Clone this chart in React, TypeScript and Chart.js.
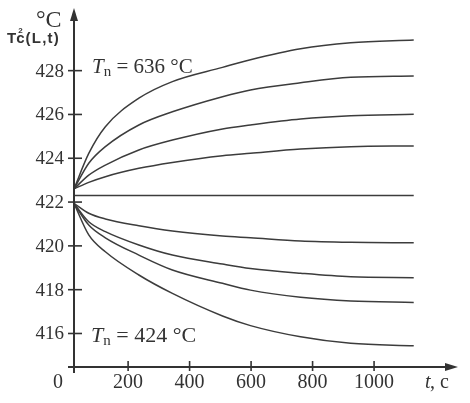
import React, { useEffect, useRef } from "react";
import { Chart, registerables } from "chart.js";
Chart.register(...registerables);

// time, s
const timeS = [24, 72, 126, 235, 344, 507, 598, 761, 924, 1129];
// temperature curves, °C
const curve1 = [422.6, 424.22, 425.44, 426.74, 427.5, 428.15, 428.5, 429.0, 429.27, 429.4];
const curve2 = [422.6, 423.77, 424.53, 425.52, 426.12, 426.81, 427.12, 427.45, 427.7, 427.76];
const curve3 = [422.6, 423.23, 423.69, 424.38, 424.83, 425.34, 425.52, 425.79, 425.94, 426.01];
const curve4 = [422.6, 422.9, 423.16, 423.54, 423.81, 424.12, 424.23, 424.42, 424.53, 424.56];
const curve5 = [422.3, 422.3, 422.3, 422.3, 422.3, 422.3, 422.3, 422.3, 422.3, 422.3];
const curve6 = [421.94, 421.49, 421.23, 420.92, 420.68, 420.45, 420.37, 420.22, 420.16, 420.14];
const curve7 = [421.94, 421.1, 420.65, 420.04, 419.58, 419.17, 418.97, 418.75, 418.59, 418.55];
const curve8 = [421.94, 420.95, 420.37, 419.58, 418.9, 418.29, 417.98, 417.65, 417.48, 417.42];
const curve9 = [421.94, 420.5, 419.73, 418.67, 417.83, 416.8, 416.36, 415.85, 415.55, 415.44];
const allCurves = [curve1, curve2, curve3, curve4, curve5, curve6, curve7, curve8, curve9];

const yTicks = [416, 418, 420, 422, 424, 426, 428];
const xTicks = [200, 400, 600, 800, 1000];
const yAxisUnit = "°C";
const yAxisName = "Tc(L,t)";
const topLabelValue = "636";
const bottomLabelValue = "424";

const INK = "#333333";
const SERIF = '"Liberation Serif", "DejaVu Serif", serif';
const SANS = '"Liberation Sans", Arial, sans-serif';

const axesPlugin = {
  id: "axesPlugin",
  afterDraw(chart: any) {
    const { ctx, chartArea, scales } = chart;
    const xs = scales.x;
    const ys = scales.y;
    const x0 = chartArea.left;
    const y0 = chartArea.bottom;
    ctx.save();
    ctx.strokeStyle = INK;
    ctx.fillStyle = INK;
    ctx.lineWidth = 2;
    // y axis
    ctx.beginPath();
    ctx.moveTo(x0, y0 + 6);
    ctx.lineTo(x0, chartArea.top + 10);
    ctx.stroke();
    ctx.beginPath();
    ctx.moveTo(x0, chartArea.top);
    ctx.lineTo(x0 - 4, chartArea.top + 13);
    ctx.lineTo(x0 + 4, chartArea.top + 13);
    ctx.closePath();
    ctx.fill();
    // x axis
    ctx.beginPath();
    ctx.moveTo(x0 - 6, y0);
    ctx.lineTo(chartArea.right - 10, y0);
    ctx.stroke();
    ctx.beginPath();
    ctx.moveTo(chartArea.right, y0);
    ctx.lineTo(chartArea.right - 13, y0 - 4);
    ctx.lineTo(chartArea.right - 13, y0 + 4);
    ctx.closePath();
    ctx.fill();

    // y ticks + labels
    ctx.lineWidth = 1.6;
    ctx.font = `19px ${SERIF}`;
    ctx.textAlign = "right";
    ctx.textBaseline = "middle";
    for (const v of yTicks) {
      const py = ys.getPixelForValue(v);
      ctx.beginPath();
      ctx.moveTo(x0 - 6, py);
      ctx.lineTo(x0 + 8, py);
      ctx.stroke();
      ctx.fillText(String(v), x0 - 10, py + 1);
    }
    // x ticks + labels
    ctx.textAlign = "center";
    ctx.font = `20px ${SERIF}`;
    for (const v of xTicks) {
      const px = xs.getPixelForValue(v);
      ctx.beginPath();
      ctx.moveTo(px, y0 - 6);
      ctx.lineTo(px, y0 + 4);
      ctx.stroke();
      ctx.fillText(String(v), px, y0 + 16);
    }
    ctx.fillText("0", x0 - 16, y0 + 16);

    // x axis name "t, c"
    ctx.textAlign = "left";
    ctx.textBaseline = "alphabetic";
    ctx.font = `italic 20px ${SERIF}`;
    ctx.fillText("t", 425, y0 + 21);
    ctx.font = `20px ${SERIF}`;
    ctx.fillText(", c", 430, y0 + 21);

    // y axis unit and name
    ctx.font = `24px ${SERIF}`;
    ctx.fillText(yAxisUnit, 36, 27);
    ctx.font = `bold 15px ${SANS}`;
    ctx.fillText("T", 7, 43);
    const tw = ctx.measureText("T").width;
    ctx.fillText("c", 7 + tw, 43);
    const cw = ctx.measureText("c").width;
    ctx.font = `bold 8px ${SANS}`;
    ctx.fillText("2", 7 + tw + 2, 33);
    ctx.font = `bold 15px ${SANS}`;
    ctx.fillText(yAxisName.slice(2).split("").join("\u200A"), 7 + tw + cw + 1, 43);

    // annotations
    const drawLabel = (x: number, base: number, value: string, size: number) => {
      ctx.font = `italic ${size}px ${SERIF}`;
      ctx.fillText("T", x, base);
      let cx = x + ctx.measureText("T").width;
      ctx.font = `${Math.round(size * 0.7)}px ${SERIF}`;
      ctx.fillText("n", cx, base + 3);
      cx += ctx.measureText("n").width;
      ctx.font = `${size}px ${SERIF}`;
      ctx.fillText(` = ${value} °C`, cx, base);
    };
    drawLabel(92, 73, topLabelValue, 21);
    drawLabel(91, 342, bottomLabelValue, 22);
    ctx.restore();
  },
};

export default function App() {
  const ref = useRef<HTMLCanvasElement | null>(null);
  useEffect(() => {
    if (!ref.current) return;
    const chart = new Chart(ref.current, {
      type: "line",
      data: {
        datasets: allCurves.map((c, i) => ({
          label: `curve ${i + 1}`,
          data: timeS.map((t, j) => ({ x: t, y: c[j] })),
          borderColor: "#3c3c3c",
          borderWidth: 1.5,
          pointRadius: 0,
          fill: false,
          cubicInterpolationMode: "monotone" as const,
        })),
      },
      options: {
        animation: false,
        responsive: false,
        maintainAspectRatio: false,
        layout: { padding: { left: 74, right: 12, top: 8, bottom: 36 } },
        plugins: { legend: { display: false }, tooltip: { enabled: false } },
        scales: {
          x: { type: "linear", min: 24, max: 1273, display: false },
          y: { type: "linear", min: 414.47, max: 430.86, display: false },
        },
      },
      plugins: [axesPlugin],
    });
    return () => chart.destroy();
  }, []);
  return (
    <div style={{ position: "absolute", left: 0, top: 0, width: 470, height: 403, background: "#fff" }}>
      <canvas ref={ref} width={470} height={403} style={{ width: 470, height: 403 }} />
    </div>
  );
}
